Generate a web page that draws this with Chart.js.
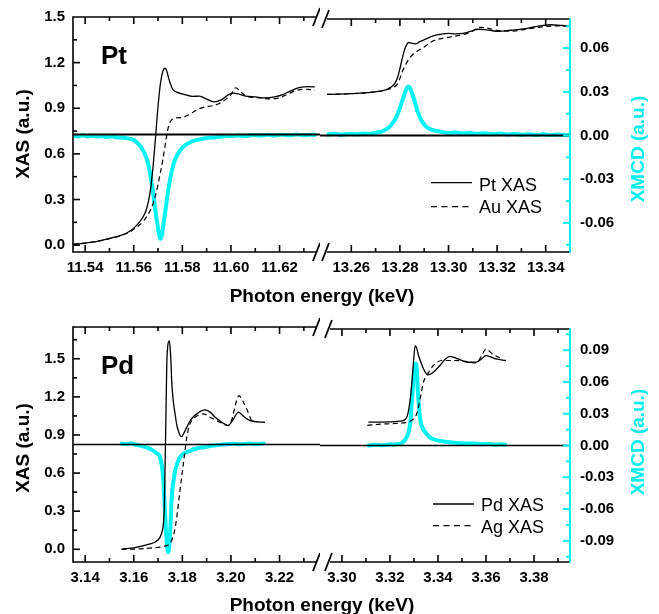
<!DOCTYPE html>
<html><head><meta charset="utf-8">
<script src="https://cdn.jsdelivr.net/npm/chart.js@4.4.1/dist/chart.umd.min.js"></script>
<style>
html,body{margin:0;padding:0;background:#fff;}
#wrap{position:relative;width:659px;height:614px;overflow:hidden;font-family:"Liberation Sans",Arial,Helvetica,sans-serif;}
canvas{position:absolute;}
.t{position:absolute;white-space:nowrap;line-height:1;color:#000;}
.b{font-weight:bold;}
.leg{position:absolute;}
</style></head><body>
<div id="wrap">
<canvas id="c1" width="320" height="290" style="left:0;top:0"></canvas>
<canvas id="c2" width="339" height="290" style="left:320px;top:0"></canvas>
<canvas id="c3" width="320" height="304" style="left:0;top:310px"></canvas>
<canvas id="c4" width="339" height="304" style="left:320px;top:310px"></canvas>

<div class="t b" style="left:101px;top:42px;font-size:26px;">Pt</div>
<div class="t b" style="left:101px;top:352px;font-size:26px;">Pd</div>

<div class="t b" style="left:22px;top:134px;font-size:19px;transform:translate(-50%,-50%) rotate(-90deg);">XAS (a.u.)</div>
<div class="t b" style="left:22px;top:448px;font-size:19px;transform:translate(-50%,-50%) rotate(-90deg);">XAS (a.u.)</div>
<div class="t b" style="left:637px;top:149px;font-size:19px;color:#00EEEE;transform:translate(-50%,-50%) rotate(-90deg);">XMCD (a.u.)</div>
<div class="t b" style="left:637px;top:442px;font-size:19px;color:#00EEEE;transform:translate(-50%,-50%) rotate(-90deg);">XMCD (a.u.)</div>

<div class="t b" style="left:322px;top:286px;font-size:19px;transform:translateX(-50%);">Photon energy (keV)</div>
<div class="t b" style="left:322px;top:595px;font-size:19px;transform:translateX(-50%);">Photon energy (keV)</div>

<svg class="leg" style="left:431px;top:176px" width="42" height="40"><line x1="0" y1="6.7" x2="41" y2="6.7" stroke="#000" stroke-width="1.3"/><line x1="0" y1="30.7" x2="41" y2="30.7" stroke="#000" stroke-width="1.3" stroke-dasharray="6,4.5"/></svg>
<div class="t" style="left:479px;top:176px;font-size:18px;">Pt XAS</div>
<div class="t" style="left:479px;top:198px;font-size:18px;">Au XAS</div>
<svg class="leg" style="left:433px;top:497px" width="42" height="40"><line x1="0" y1="7" x2="41" y2="7" stroke="#000" stroke-width="1.3"/><line x1="0" y1="28.7" x2="41" y2="28.7" stroke="#000" stroke-width="1.3" stroke-dasharray="6,4.5"/></svg>
<div class="t" style="left:481px;top:495.5px;font-size:18px;">Pd XAS</div>
<div class="t" style="left:481px;top:518px;font-size:18px;">Ag XAS</div>
</div>
<script>
// ================= DATA =================
// Pt L3 edge region (top panel, left segment)
const ptL3E   = [11.535,11.540,11.545,11.550,11.555,11.558,11.560,11.562,11.564,11.565,11.566,11.567,11.568,11.569,11.570,11.571,11.572,11.5727,11.5735,11.5745,11.576,11.578,11.581,11.584,11.587,11.590,11.593,11.596,11.599,11.601,11.603,11.606,11.610,11.614,11.618,11.621,11.624,11.628,11.632,11.6345];
const ptL3Xas = [0.005,0.014,0.025,0.044,0.066,0.088,0.112,0.145,0.190,0.225,0.285,0.375,0.525,0.715,0.915,1.065,1.145,1.163,1.150,1.090,1.025,1.005,0.990,0.978,0.980,0.960,0.942,0.955,0.990,1.000,0.995,0.980,0.975,0.968,0.975,0.988,1.010,1.035,1.042,1.040];
const auL3E   = [11.535,11.540,11.545,11.550,11.555,11.558,11.560,11.562,11.564,11.566,11.568,11.569,11.570,11.571,11.572,11.573,11.574,11.575,11.577,11.580,11.583,11.586,11.589,11.592,11.595,11.598,11.600,11.602,11.604,11.607,11.611,11.615,11.619,11.623,11.627,11.631,11.6345];
const auL3Xas = [0.005,0.014,0.025,0.043,0.064,0.084,0.104,0.128,0.158,0.205,0.275,0.330,0.400,0.480,0.565,0.665,0.760,0.810,0.835,0.840,0.860,0.890,0.908,0.915,0.930,0.960,0.990,1.035,1.008,0.975,0.970,0.962,0.965,0.990,1.018,1.025,1.018];
const ptL3McdE = [11.535,11.537,11.539,11.541,11.543,11.545,11.547,11.549,11.551,11.553,11.555,11.557,11.559,11.561,11.563,11.565,11.566,11.567,11.568,11.569,11.570,11.5705,11.571,11.5715,11.572,11.573,11.574,11.575,11.576,11.577,11.579,11.581,11.583,11.585,11.588,11.591,11.594,11.597,11.600,11.603,11.606,11.609,11.612,11.615,11.618,11.621,11.624,11.627,11.630,11.633,11.6345];
const ptL3Mcd  = [-0.0008,-0.0013,-0.0005,-0.0012,-0.0008,-0.0015,-0.0010,-0.0017,-0.0012,-0.0019,-0.0020,-0.0025,-0.0032,-0.0050,-0.0085,-0.0150,-0.0205,-0.0290,-0.0400,-0.0530,-0.0640,-0.0690,-0.0710,-0.0690,-0.0640,-0.0520,-0.0400,-0.0300,-0.0225,-0.0170,-0.0110,-0.0075,-0.0055,-0.0042,-0.0030,-0.0022,-0.0018,-0.0012,-0.0010,-0.0006,-0.0010,-0.0003,-0.0008,-0.0002,-0.0007,-0.0001,-0.0006,0.0000,-0.0005,-0.0001,-0.0003];
// Pt L2 edge region (top panel, right segment)
const ptL2E   = [13.250,13.255,13.260,13.265,13.268,13.271,13.274,13.276,13.278,13.279,13.280,13.281,13.282,13.283,13.2835,13.285,13.2865,13.288,13.291,13.294,13.297,13.300,13.303,13.306,13.309,13.312,13.315,13.318,13.321,13.324,13.327,13.330,13.333,13.336,13.339,13.342,13.345,13.348,13.350];
const ptL2Xas = [1.000,1.002,1.005,1.010,1.014,1.020,1.030,1.045,1.075,1.110,1.170,1.240,1.300,1.335,1.345,1.338,1.335,1.348,1.370,1.390,1.400,1.405,1.402,1.405,1.418,1.432,1.430,1.422,1.418,1.422,1.428,1.433,1.440,1.450,1.458,1.462,1.460,1.455,1.452];
const auL2E   = [13.250,13.260,13.268,13.274,13.277,13.279,13.2815,13.2842,13.287,13.290,13.2937,13.297,13.3006,13.304,13.3088,13.313,13.316,13.320,13.3267,13.330,13.335,13.340,13.345,13.350];
const auL2Xas = [1.000,1.005,1.013,1.028,1.045,1.070,1.170,1.245,1.285,1.315,1.355,1.370,1.380,1.390,1.410,1.445,1.440,1.425,1.420,1.428,1.440,1.450,1.455,1.450];
const ptL2McdE = [13.250,13.253,13.256,13.259,13.262,13.265,13.268,13.270,13.272,13.274,13.2755,13.277,13.278,13.279,13.280,13.281,13.282,13.283,13.2835,13.284,13.285,13.286,13.287,13.288,13.289,13.290,13.291,13.292,13.293,13.295,13.297,13.300,13.303,13.306,13.309,13.312,13.315,13.318,13.321,13.324,13.327,13.330,13.333,13.336,13.339,13.342,13.345,13.348,13.350];
const ptL2Mcd  = [0.0007,0.0012,0.0005,0.0011,0.0008,0.0013,0.0012,0.0018,0.0024,0.0040,0.0055,0.0085,0.0110,0.0145,0.0190,0.0240,0.0290,0.0328,0.0334,0.0330,0.0290,0.0240,0.0180,0.0135,0.0100,0.0075,0.0058,0.0048,0.0040,0.0032,0.0025,0.0018,0.0021,0.0014,0.0018,0.0011,0.0015,0.0009,0.0013,0.0007,0.0011,0.0005,0.0009,0.0004,0.0008,0.0003,0.0007,0.0002,0.0005];
// Pd L3 edge region (bottom panel, left segment)
const pdL3E   = [3.155,3.1557,3.160,3.1667,3.1690,3.1708,3.1718,3.1722,3.1726,3.1729,3.1732,3.1736,3.1740,3.1746,3.1750,3.1753,3.1756,3.1760,3.1765,3.1770,3.1777,3.1783,3.1790,3.1797,3.1805,3.1818,3.1835,3.1859,3.1893,3.1914,3.1935,3.1955,3.1975,3.1989,3.2005,3.2018,3.2030,3.2045,3.2065,3.2090,3.2140];
const pdL3Xas = [0.000,0.003,0.012,0.042,0.060,0.094,0.150,0.200,0.350,0.670,1.000,1.460,1.600,1.640,1.580,1.480,1.330,1.220,1.130,1.066,0.980,0.935,0.900,0.887,0.910,0.960,1.020,1.066,1.098,1.080,1.040,1.010,0.985,0.974,1.010,1.050,1.080,1.060,1.027,1.008,1.000];
const agL3E   = [3.155,3.162,3.168,3.172,3.175,3.1765,3.1777,3.1790,3.1804,3.1818,3.1828,3.1838,3.1860,3.1886,3.1914,3.1955,3.1989,3.2005,3.2020,3.2033,3.2048,3.2065,3.2085,3.2095];
const agL3Xas = [0.000,0.003,0.012,0.022,0.050,0.120,0.250,0.460,0.670,0.880,0.970,1.013,1.050,1.066,1.040,1.000,0.974,1.030,1.150,1.210,1.170,1.105,1.013,1.000];
const pdL3McdE = [3.155,3.157,3.159,3.161,3.163,3.165,3.167,3.169,3.1708,3.1716,3.1722,3.1729,3.1735,3.1742,3.1748,3.1752,3.1756,3.1763,3.1770,3.1780,3.1790,3.1810,3.1831,3.1860,3.1890,3.1920,3.1950,3.1980,3.2010,3.2040,3.2070,3.2100,3.2135];
const pdL3Mcd  = [0.0008,0.0004,0.0009,-0.0003,-0.0012,-0.0025,-0.0045,-0.0075,-0.0120,-0.0200,-0.0340,-0.0650,-0.0900,-0.1010,-0.0900,-0.0720,-0.0500,-0.0350,-0.0250,-0.0170,-0.0120,-0.0080,-0.0060,-0.0035,-0.0025,-0.0012,-0.0004,0.0002,0.0008,0.0002,0.0010,0.0005,0.0010];
// Pd L2 edge region (bottom panel, right segment)
const pdL2E   = [3.311,3.315,3.319,3.323,3.325,3.3271,3.3285,3.3292,3.3299,3.3305,3.3311,3.3319,3.3330,3.3340,3.3350,3.3360,3.3381,3.3408,3.3430,3.3449,3.3484,3.3525,3.3559,3.3580,3.3600,3.3641,3.3683];
const pdL2Xas = [1.010,1.010,1.012,1.016,1.020,1.053,1.200,1.340,1.510,1.617,1.600,1.540,1.480,1.433,1.400,1.386,1.407,1.460,1.510,1.533,1.512,1.486,1.486,1.510,1.539,1.512,1.500];
const agL2E   = [3.3106,3.3160,3.3222,3.3270,3.3295,3.3312,3.3326,3.3340,3.3353,3.3381,3.3415,3.3469,3.3525,3.3559,3.3580,3.3600,3.3628,3.3669];
const agL2Xas = [0.985,0.995,1.000,1.010,1.030,1.080,1.200,1.330,1.380,1.460,1.500,1.500,1.490,1.480,1.530,1.590,1.550,1.512];
const pdL2McdE = [3.311,3.314,3.317,3.320,3.323,3.325,3.3265,3.3275,3.3285,3.3292,3.3298,3.3304,3.3308,3.3312,3.3316,3.3321,3.3326,3.3335,3.3346,3.3360,3.3374,3.3400,3.3429,3.3460,3.3490,3.3520,3.3550,3.3580,3.3610,3.3640,3.3660,3.3680];
const pdL2Mcd  = [0.0000,0.0008,0.0003,0.0010,0.0012,0.0025,0.0060,0.0110,0.0220,0.0440,0.0620,0.0740,0.0775,0.0700,0.0520,0.0360,0.0250,0.0170,0.0128,0.0090,0.0066,0.0048,0.0035,0.0028,0.0022,0.0018,0.0020,0.0012,0.0015,0.0008,0.0011,0.0009];

// Tick labels
const ptXTicksA = [11.54,11.56,11.58,11.60,11.62];
const ptXTicksB = [13.26,13.28,13.30,13.32,13.34];
const pdXTicksA = [3.14,3.16,3.18,3.20,3.22];
const pdXTicksB = [3.30,3.32,3.34,3.36,3.38];
const xasTicks  = [0.0,0.3,0.6,0.9,1.2,1.5];
const ptMcdTicks = [-0.06,-0.03,0.00,0.03,0.06];
const pdMcdTicks = [-0.09,-0.06,-0.03,0.00,0.03,0.06,0.09];

// ================= CHART =================
const CYAN = '#00F2F2';
const TICKFONT = {family:'"Liberation Sans", Arial, sans-serif', size:15, weight:'bold'};
const pts = (E, V) => E.map((e, i) => ({x: e, y: V[i]}));

const framePlugin = {
  id: 'frame',
  afterDatasetDraw(chart, args, o) {
    if (args.index !== 2) return;
    const ctx = chart.ctx, a = chart.chartArea;
    const y0 = chart.scales.y2.getPixelForValue(0);
    ctx.save();
    ctx.strokeStyle = '#000'; ctx.lineWidth = o.zeroW;
    ctx.beginPath();
    if (o.side === 'left') { ctx.moveTo(a.left, y0); ctx.lineTo(chart.width, y0); }
    else { ctx.moveTo(0, y0); ctx.lineTo(a.right, y0); }
    ctx.stroke();
    ctx.restore();
  },
  afterDatasetsDraw(chart, args, o) {
    const ctx = chart.ctx, a = chart.chartArea;
    const MAJ = 7, MIN = 4;
    ctx.save();
    ctx.lineWidth = 1.6; ctx.lineCap = 'butt';
    const seg = (x1, y1, x2, y2) => { ctx.beginPath(); ctx.moveTo(x1, y1); ctx.lineTo(x2, y2); ctx.stroke(); };
    ctx.strokeStyle = '#000';
    const xs = chart.scales.x;
    const hx = o.xStep / 2;
    for (let n = Math.ceil(xs.min / hx - 1e-6); n <= Math.floor(xs.max / hx + 1e-6); n++) {
      const p = xs.getPixelForValue(n * hx);
      if (p < a.left + 2 || p > a.right - 2) continue;
      const L = (n % 2 === 0) ? MAJ : MIN;
      seg(p, a.bottom, p, a.bottom - L);
      seg(p, a.top, p, a.top + L);
    }
    seg(a.left, a.top, a.right, a.top);
    seg(a.left, a.bottom, a.right, a.bottom);
    const ys = o.side === 'left' ? chart.scales.y : chart.scales.y2;
    const hy = o.yStep / 2;
    ctx.strokeStyle = o.side === 'left' ? '#000' : CYAN;
    ctx.lineWidth = o.side === 'left' ? 1.6 : 2;
    const ax = o.side === 'left' ? a.left : a.right;
    const dir = o.side === 'left' ? 1 : -1;
    for (let n = Math.ceil(ys.min / hy - 1e-6); n <= Math.floor(ys.max / hy + 1e-6); n++) {
      const p = ys.getPixelForValue(n * hy);
      if (p < a.top + 1 || p > a.bottom - 1) continue;
      const L = (((n % 2) + 2) % 2 === 0) ? MAJ : MIN;
      seg(ax, p, ax + dir * L, p);
    }
    seg(ax, a.top - 0.8, ax, a.bottom + 0.8);
    ctx.strokeStyle = '#000'; ctx.lineWidth = 1.8;
    [a.top, a.bottom].forEach(yy => {
      if (o.side === 'left') seg(a.right - 3, yy + 9, a.right + 4, yy - 9);
      else seg(a.left - 5, yy + 9, a.left + 2, yy - 9);
    });
    ctx.restore();
  }
};

function makeChart(id, c) {
  const fixTicks = arr => s => { s.ticks = arr.map(v => ({value: v})); };
  const showY = c.side === 'left', showY2 = c.side === 'right';
  return new Chart(document.getElementById(id), {
    type: 'line',
    data: {datasets: [
      {data: pts(c.solid[0], c.solid[1]), borderColor: '#000', borderWidth: 1.3, pointRadius: 0, yAxisID: 'y', cubicInterpolationMode: 'monotone'},
      {data: pts(c.dashed[0], c.dashed[1]), borderColor: '#000', borderWidth: 1.2, borderDash: [5, 3.5], pointRadius: 0, yAxisID: 'y', cubicInterpolationMode: 'monotone'},
      {data: pts(c.mcd[0], c.mcd[1]), borderColor: CYAN, borderWidth: 4, pointRadius: 0, yAxisID: 'y2', cubicInterpolationMode: 'monotone', borderJoinStyle: 'round', borderCapStyle: 'round'}
    ]},
    options: {
      responsive: false, animation: false, events: [],
      layout: {padding: c.padding},
      plugins: {legend: {display: false}, tooltip: {enabled: false},
        frame: {side: c.side, xStep: 0.02, yStep: c.yStep, zeroW: c.zeroW}},
      scales: {
        x: {type: 'linear', min: c.xMin, max: c.xMax,
          grid: {display: false, drawTicks: false}, border: {display: false},
          afterBuildTicks: fixTicks(c.xTicks),
          afterFit: s => { s.height = c.xH; },
          ticks: {callback: v => Number(v).toFixed(2), font: TICKFONT, color: '#000', padding: 7, maxRotation: 0, autoSkip: false}},
        y: {type: 'linear', position: 'left', display: showY, min: c.yMin, max: c.yMax,
          grid: {display: false, drawTicks: false}, border: {display: false},
          afterBuildTicks: fixTicks(xasTicks),
          afterFit: s => { s.width = showY ? 73 : 0; },
          ticks: {callback: v => Number(v).toFixed(1), font: TICKFONT, color: '#000', padding: 8, autoSkip: false}},
        y2: {type: 'linear', position: 'right', display: showY2, min: c.y2Min, max: c.y2Max,
          grid: {display: false, drawTicks: false}, border: {display: false},
          afterBuildTicks: fixTicks(c.y2Ticks),
          afterFit: s => { s.width = showY2 ? 89 : 0; },
          ticks: {callback: v => Number(v).toFixed(2), font: TICKFONT, color: '#000', padding: 10, autoSkip: false}}
      }
    },
    plugins: [framePlugin]
  });
}

const topCfg = {yMin: -0.045, yMax: 1.5, y2Min: -0.08, y2Max: 0.08, y2Ticks: ptMcdTicks, xH: 38, zeroW: 2};
const botCfg = {yMin: -0.1, yMax: 1.75, y2Min: -0.11, y2Max: 0.11, y2Ticks: pdMcdTicks, xH: 52, zeroW: 1.6};

makeChart('c1', Object.assign({}, topCfg, {side: 'left', xMin: 11.535, xMax: 11.635, xTicks: ptXTicksA, yStep: 0.3,
  padding: {top: 17, right: 4, left: 0, bottom: 0},
  solid: [ptL3E, ptL3Xas], dashed: [auL3E, auL3Xas], mcd: [ptL3McdE, ptL3Mcd]}));
makeChart('c2', Object.assign({}, topCfg, {side: 'right', xMin: 13.25, xMax: 13.35, xTicks: ptXTicksB, yStep: 0.03,
  padding: {top: 17, right: 0, left: 7, bottom: 0},
  solid: [ptL2E, ptL2Xas], dashed: [auL2E, auL2Xas], mcd: [ptL2McdE, ptL2Mcd]}));
makeChart('c3', Object.assign({}, botCfg, {side: 'left', xMin: 3.135, xMax: 3.235, xTicks: pdXTicksA, yStep: 0.3,
  padding: {top: 17, right: 4, left: 0, bottom: 0},
  solid: [pdL3E, pdL3Xas], dashed: [agL3E, agL3Xas], mcd: [pdL3McdE, pdL3Mcd]}));
makeChart('c4', Object.assign({}, botCfg, {side: 'right', xMin: 3.295, xMax: 3.395, xTicks: pdXTicksB, yStep: 0.03,
  padding: {top: 17, right: 0, left: 7, bottom: 0},
  solid: [pdL2E, pdL2Xas], dashed: [agL2E, agL2Xas], mcd: [pdL2McdE, pdL2Mcd]}));
</script>
</body></html>
